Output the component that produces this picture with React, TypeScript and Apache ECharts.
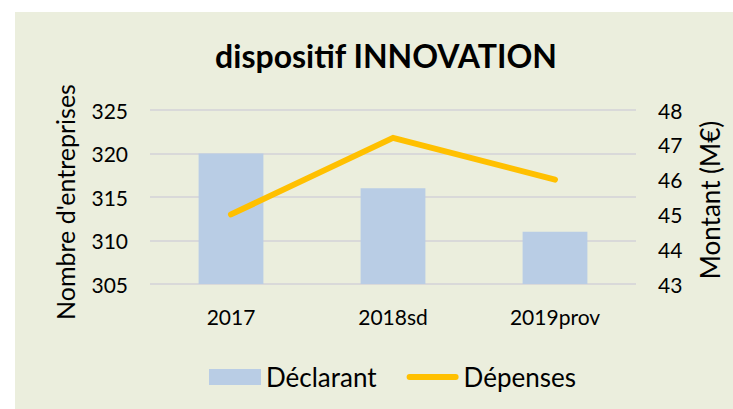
import React, { useEffect, useRef } from "react";
import * as echarts from "echarts";

const categories = ["2017", "2018sd", "2019prov"];
const declarants = [320, 316, 311];
const depenses = [45, 47.2, 46];

const FONT = "Lato, 'Open Sans', sans-serif";

export default function App() {
  const ref = useRef<HTMLDivElement>(null);
  useEffect(() => {
    if (!ref.current) return;
    const chart = echarts.init(ref.current, undefined, { renderer: "svg" });
    chart.setOption({
      animation: false,
      backgroundColor: "#ffffff",
      textStyle: { fontFamily: FONT },
      graphic: [
        {
          type: "rect",
          z: -10,
          silent: true,
          shape: { x: 15, y: 12, width: 733 - 15, height: 409 - 12 },
          style: { fill: "#EBEEDD" },
        },
        {
          type: "text",
          x: 386,
          y: 55,
          style: {
            text: "dispositif INNOVATION",
            fontFamily: FONT,
            fontSize: 32,
            fontWeight: "bold",
            fill: "#000",
            align: "center",
            verticalAlign: "middle",
          },
        },
        {
          type: "text",
          x: 65,
          y: 202,
          rotation: Math.PI / 2,
          style: {
            text: "Nombre d'entreprises",
            fontFamily: FONT,
            fontSize: 25,
            fill: "#000",
            align: "center",
            verticalAlign: "middle",
          },
        },
        {
          type: "text",
          x: 710,
          y: 200,
          rotation: Math.PI / 2,
          style: {
            text: "Montant (M€)",
            fontFamily: FONT,
            fontSize: 26,
            fill: "#000",
            align: "center",
            verticalAlign: "middle",
          },
        },
      ],
      legend: {
        top: 359,
        left: 204,
        itemGap: 30,
        itemWidth: 52,
        itemHeight: 16,
        textStyle: { fontFamily: FONT, fontSize: 26, color: "#000" },
        data: [
          { name: "Déclarant", icon: "rect" },
          {
            name: "Dépenses",
            icon: "path://M3,0 L49,0 A3,3 0 0 1 49,6 L3,6 A3,3 0 0 1 3,0 Z",
            itemStyle: { color: "#FFC000" },
          },
        ],
      },
      grid: { left: 150, right: 97, top: 110, bottom: 125 },
      xAxis: {
        type: "category",
        data: categories,
        axisLine: { show: false },
        axisTick: { show: false },
        axisLabel: { fontFamily: FONT, fontSize: 21, color: "#000", margin: 22 },
      },
      yAxis: [
        {
          type: "value",
          min: 305,
          max: 325,
          interval: 5,
          axisLine: { show: false },
          axisTick: { show: false },
          axisLabel: { fontFamily: FONT, fontSize: 21, color: "#000", margin: 22 },
          splitLine: { lineStyle: { color: "#D9D9D9", width: 2 } },
        },
        {
          type: "value",
          min: 43,
          max: 48,
          interval: 1,
          position: "right",
          axisLine: { show: false },
          axisTick: { show: false },
          axisLabel: { fontFamily: FONT, fontSize: 21, color: "#000", margin: 22 },
          splitLine: { show: false },
        },
      ],
      series: [
        {
          name: "Déclarant",
          type: "bar",
          data: declarants,
          barWidth: "40%",
          itemStyle: { color: "#B9CDE5" },
        },
        {
          name: "Dépenses",
          type: "line",
          yAxisIndex: 1,
          data: depenses,
          symbol: "none",
          lineStyle: { color: "#FFC000", width: 6, cap: "round", join: "round" },
          itemStyle: { color: "#FFC000" },
        },
      ],
    });
    return () => chart.dispose();
  }, []);
  return (
    <div
      ref={ref}
      style={{ position: "fixed", left: 0, top: 0, width: 733, height: 409 }}
    />
  );
}
